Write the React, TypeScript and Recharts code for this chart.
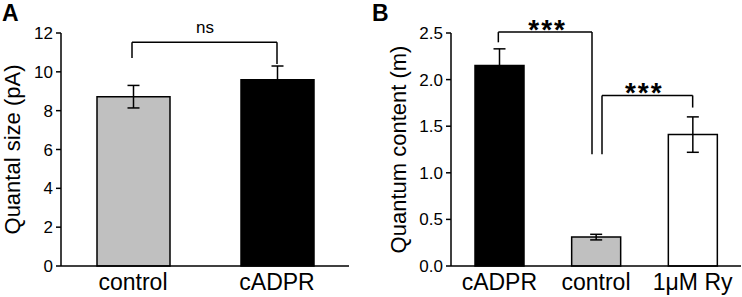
import { BarChart, Bar, XAxis, YAxis, ErrorBar, Cell, ReferenceLine } from 'recharts'

const quantalCats = ['control', 'cADPR']
const quantalMean = [8.72, 9.59]
const quantalSem = [0.58, 0.71]
const quantalTicks = [0, 2, 4, 6, 8, 10, 12]

const contentCats = ['cADPR', 'control', '1\u03bcM Ry']
const contentMean = [2.15, 0.31, 1.41]
const contentSem = [0.18, 0.03, 0.19]
const contentTicks = [0, 0.5, 1.0, 1.5, 2.0, 2.5]

// [from, to, bar height, left drop end, right drop end, label]
const quantalBrackets: [string, string, number, number, number, string][] = [
  ['control', 'cADPR', 11.52, 10.71, 10.4, 'ns'],
]
const contentBrackets: [string, string, number, number, number, string][] = [
  ['cADPR', 'control', 2.51, 2.4, 1.2, '***'],
  ['control', '1\u03bcM Ry', 1.83, 1.2, 1.7, '***'],
]

const FONT = '"Liberation Sans", Arial, sans-serif'
const GREY = '#c0c0c0'

const quantalData = quantalCats.map((name, i) => ({ name, mean: quantalMean[i], sem: quantalSem[i] }))
const contentData = contentCats.map((name, i) => ({ name, mean: contentMean[i], sem: contentSem[i] }))

function AxisTitle(props: any) {
  const vb = props.viewBox || {}
  const cy = vb.y + vb.height / 2
  const x = props.left
  return (
    <text
      x={x}
      y={cy}
      transform={`rotate(-90, ${x}, ${cy})`}
      textAnchor="middle"
      dominantBaseline="central"
      fontSize={22}
      fontFamily={FONT}
      fill="#000"
    >
      {props.text}
    </text>
  )
}

function shiftedLine(dx1: number, dx2: number) {
  return (p: any) => (
    <line x1={p.x1 + dx1} y1={p.y1} x2={p.x2 + dx2} y2={p.y2} stroke="#000" strokeWidth={1.5} />
  )
}

function bracketLines(specs: [string, string, number, number, number, string][], offsets: [number, number][], labelSize: number, labelOffset: number, bold: boolean) {
  return specs.flatMap(([a, b, top, leftEnd, rightEnd, label], i) => {
    const [dl, dr] = offsets[i]
    return [
      <ReferenceLine
        key={`h${i}`}
        segment={[{ x: a, y: top }, { x: b, y: top }]}
        ifOverflow="visible"
        shape={shiftedLine(dl, dr)}
        label={{ value: label, position: 'top', offset: labelOffset, fill: '#000', fontSize: labelSize, fontFamily: FONT, fontWeight: bold ? 'bold' : 'normal', letterSpacing: bold ? 2 : 0 }}
      />,
      <ReferenceLine
        key={`l${i}`}
        segment={[{ x: a, y: top }, { x: a, y: leftEnd }]}
        ifOverflow="visible"
        shape={shiftedLine(dl, dl)}
      />,
      <ReferenceLine
        key={`r${i}`}
        segment={[{ x: b, y: top }, { x: b, y: rightEnd }]}
        ifOverflow="visible"
        shape={shiftedLine(dr, dr)}
      />,
    ]
  })
}

const axisStyle = { stroke: '#000', strokeWidth: 1.5 }
const letterStyle = { position: 'absolute' as const, top: 0, fontSize: 23, fontWeight: 'bold' as const, lineHeight: '26px' }

export default function App() {
  return (
    <div style={{ position: 'fixed', left: 0, top: 0, width: 742, height: 297, background: '#fff', fontFamily: FONT }}>
      <div style={{ ...letterStyle, left: 2 }}>A</div>
      <div style={{ ...letterStyle, left: 372 }}>B</div>

      <div style={{ position: 'absolute', left: 0, top: 0 }}>
        <BarChart width={370} height={297} data={quantalData} margin={{ top: 33, right: 21, left: 0, bottom: 0 }}>
          <XAxis
            dataKey="name"
            height={31}
            tickLine={false}
            axisLine={axisStyle}
            tick={{ fontSize: 23, fill: '#000', fontFamily: FONT }}
            tickMargin={2}
          />
          <YAxis
            width={61}
            domain={[0, 12]}
            ticks={quantalTicks}
            tickSize={5}
            tickMargin={3}
            axisLine={axisStyle}
            tickLine={axisStyle}
            tick={{ fontSize: 17, fill: '#000', fontFamily: FONT }}
            label={<AxisTitle text="Quantal size (pA)" left={12.5} />}
          />
          <Bar dataKey="mean" barSize={73} stroke="#000" strokeWidth={1.5} isAnimationActive={false}>
            {quantalData.map((d, i) => (
              <Cell key={d.name} fill={i === 0 ? GREY : '#000'} />
            ))}
            <ErrorBar dataKey="sem" width={6} stroke="#000" strokeWidth={1.5} isAnimationActive={false} />
          </Bar>
          {bracketLines(quantalBrackets, [[-1, 0]], 17, 9, false)}
        </BarChart>
      </div>

      <div style={{ position: 'absolute', left: 370, top: 0 }}>
        <BarChart width={372} height={297} data={contentData} margin={{ top: 33, right: 1, left: 0, bottom: 0 }}>
          <XAxis
            dataKey="name"
            height={31}
            tickLine={false}
            axisLine={axisStyle}
            tick={{ fontSize: 23, fill: '#000', fontFamily: FONT }}
            tickMargin={2}
          />
          <YAxis
            width={81}
            domain={[0, 2.5]}
            ticks={contentTicks}
            tickFormatter={(v: number) => v.toFixed(1)}
            tickSize={5}
            tickMargin={3}
            axisLine={axisStyle}
            tickLine={axisStyle}
            tick={{ fontSize: 17, fill: '#000', fontFamily: FONT }}
            label={<AxisTitle text="Quantum content (m)" left={28} />}
          />
          <Bar dataKey="mean" barSize={49} stroke="#000" strokeWidth={1.5} isAnimationActive={false}>
            {contentData.map((d, i) => (
              <Cell key={d.name} fill={i === 0 ? '#000' : i === 1 ? GREY : '#fff'} />
            ))}
            <ErrorBar dataKey="sem" width={6} stroke="#000" strokeWidth={1.5} isAnimationActive={false} />
          </Bar>
          {bracketLines(contentBrackets, [[-1, -4], [6, 0]], 28, -7, true)}
        </BarChart>
      </div>
    </div>
  )
}
